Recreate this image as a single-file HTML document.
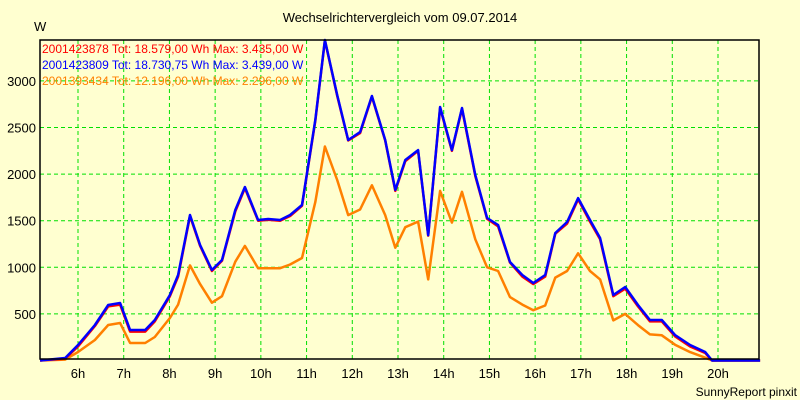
<!DOCTYPE html>
<html><head><meta charset="utf-8"><style>
body{margin:0;background:#ffffd0;}
svg{display:block;font-family:"Liberation Sans",sans-serif;}
</style></head><body>
<svg width="800" height="400">
<rect width="800" height="400" fill="#ffffd0"/>
<text x="400" y="22" text-anchor="middle" font-size="13">Wechselrichtervergleich vom 09.07.2014</text>
<text x="34" y="31" font-size="13">W</text>
<g id="grid"></g>
<g id="series"></g>
<rect x="40" y="40" width="719" height="319" fill="none" stroke="#000" stroke-width="1.5"/>
<g id="labels"></g>
<g font-size="12">
<text x="42" y="53" fill="#ff0000">2001423878 Tot: 18.579,00 Wh Max: 3.435,00 W</text>
<text x="42" y="69" fill="#0000ff">2001423809 Tot: 18.730,75 Wh Max: 3.439,00 W</text>
<text x="42" y="85" fill="#ff8000">2001393434 Tot: 12.196,00 Wh Max: 2.296,00 W</text>
</g>
<text x="797" y="396" text-anchor="end" font-size="12">SunnyReport pinxit</text>
</svg>
<script>
const times=[5.17,5.72,6.0,6.37,6.66,6.92,7.14,7.47,7.68,8.01,8.19,8.45,8.67,8.93,9.15,9.44,9.65,9.94,10.16,10.42,10.64,10.90,11.19,11.40,11.67,11.91,12.17,12.43,12.72,12.94,13.16,13.44,13.66,13.92,14.18,14.40,14.69,14.95,15.19,15.45,15.72,15.96,16.22,16.44,16.70,16.94,17.20,17.42,17.71,17.97,18.25,18.51,18.77,19.06,19.39,19.72,19.87,20.92];
const blueVals=[0,27,166,381,596,617,327,327,435,703,917,1561,1239,971,1078,1615,1862,1507,1518,1507,1561,1668,2580,3439,2849,2366,2451,2838,2366,1830,2151,2258,1346,2720,2258,2709,1990,1529,1454,1057,917,832,917,1368,1486,1743,1507,1314,703,789,596,435,435,274,166,91,0,0];
const redVals=[0,20,150,370,580,600,310,310,420,690,900,1550,1230,960,1070,1600,1850,1500,1510,1500,1550,1660,2570,3435,2840,2360,2440,2830,2360,1820,2140,2250,1340,2710,2250,2700,1980,1520,1440,1050,900,820,900,1360,1470,1730,1490,1300,690,770,580,420,420,260,150,80,0,0];
const orangeVals=[0,10,91,220,381,402,188,188,252,456,600,1020,820,620,690,1060,1230,990,990,990,1030,1100,1700,2296,1937,1560,1620,1880,1560,1210,1430,1490,870,1820,1480,1810,1300,1000,960,680,600,540,590,890,960,1150,960,870,430,500,380,280,270,170,90,30,0,0];
const yTicks=[500,1000,1500,2000,2500,3000];
const xTicks=[6,7,8,9,10,11,12,13,14,15,16,17,18,19,20];
const xS=t=>78+(t-6)*45.714;
const yS=v=>360.5-v*0.0932;
const NS="http://www.w3.org/2000/svg";
const grid=document.getElementById('grid'),lab=document.getElementById('labels'),ser=document.getElementById('series');
function mk(tag,attrs,parent){const e=document.createElementNS(NS,tag);for(const k in attrs)e.setAttribute(k,attrs[k]);parent.appendChild(e);return e;}
yTicks.forEach(v=>{
 const l=mk('line',{x1:40,x2:759,y1:yS(v),y2:yS(v),stroke:'#00e000','stroke-dasharray':'4,3'},grid);
 
 
 const t=mk('text',{x:36,y:yS(v)+5,'text-anchor':'end','font-size':13},lab);
 
 
 t.textContent=v;
});
xTicks.forEach(h=>{
 const l=mk('line',{x1:xS(h),x2:xS(h),y1:40,y2:359,stroke:'#00e000','stroke-dasharray':'4,3'},grid);
 
 
 const t=mk('text',{x:xS(h),y:378,'text-anchor':'middle','font-size':13},lab);
 
 
 t.textContent=h+'h';
});
function line(vals,color,name){
 const p=mk('polyline',{points:vals.map((v,i)=>xS(times[i]).toFixed(1)+','+yS(v).toFixed(1)).join(' '),fill:'none',stroke:color,'stroke-width':2.5,'stroke-linejoin':'round'},ser);
 
 
}
line(orangeVals,'#ff8000','series-2001393434');
line(redVals,'#ff0000','series-2001423878');
line(blueVals,'#0000ff','series-2001423809');
</script>
</body></html>
